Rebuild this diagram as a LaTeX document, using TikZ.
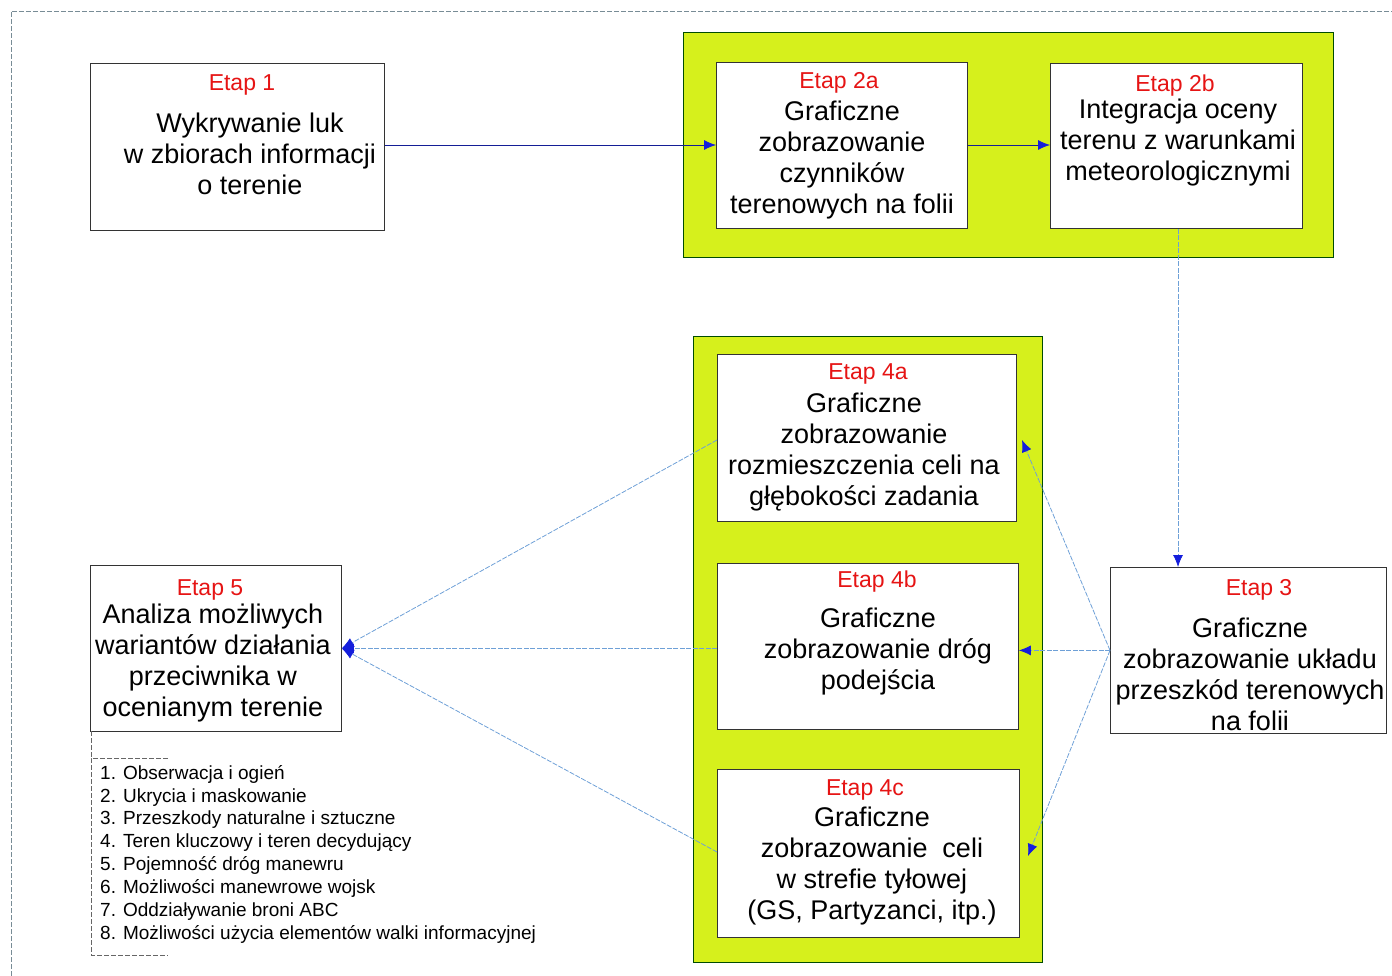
\documentclass[tikz,border=0pt]{standalone}
\usepackage{fontspec}
\setmainfont{Liberation Sans}
\usetikzlibrary{arrows.meta}
\definecolor{etapred}{RGB}{230,20,20}
\definecolor{greenfill}{RGB}{214,240,28}
\definecolor{lineblue}{RGB}{110,160,215}
\definecolor{darkblue}{RGB}{20,30,150}
\definecolor{arrblue}{RGB}{20,30,220}
\definecolor{framegray}{RGB}{120,140,150}
\tikzset{
  stage/.style={draw=black!80, line width=0.8pt, fill=white},
  group/.style={draw=black!70!green, line width=1pt, fill=greenfill},
  ttl/.style={text=etapred, font=\fontsize{23}{27}\selectfont, anchor=center, inner sep=0pt},
  body/.style={font=\fontsize{27}{31}\selectfont, align=center, anchor=center, inner sep=0pt},
  conn/.style={draw=lineblue, line width=0.8pt, dash pattern=on 5pt off 1.5pt, -{Latex[length=12pt,width=10pt,color=arrblue]}},
  connd/.style={draw=darkblue, line width=0.8pt, -{Latex[length=12pt,width=10pt,color=arrblue]}},
  listtxt/.style={font=\fontsize{19}{22.9}\selectfont, align=left, anchor=north west, inner sep=0pt},
  frame/.style={draw=framegray, line width=0.6pt, dash pattern=on 5pt off 2pt}
}
\begin{document}
\begin{tikzpicture}[x=1pt,y=-1pt]
\useasboundingbox (0,0) rectangle (1392,976);
% outer frame
\draw[frame] (11,976) -- (11,11) -- (1392,11);
% green groups
\draw[group] (683,33) rectangle (1333,258);
\draw[group] (693,336) rectangle (1042,962);
% stage boxes
\node[stage, minimum width=294pt, minimum height=167pt, anchor=north west] (e1) at (90,63) {};
\node[stage, minimum width=251pt, minimum height=166pt, anchor=north west] (e2a) at (716,62) {};
\node[stage, minimum width=252pt, minimum height=165pt, anchor=north west] (e2b) at (1050,63) {};
\node[stage, minimum width=299pt, minimum height=167pt, anchor=north west] (e4a) at (717,354) {};
\node[stage, minimum width=301pt, minimum height=166pt, anchor=north west] (e4b) at (717,563) {};
\node[stage, minimum width=302pt, minimum height=168pt, anchor=north west] (e4c) at (717,769) {};
\node[stage, minimum width=276pt, minimum height=166pt, anchor=north west] (e3) at (1110,567) {};
\node[stage, minimum width=251pt, minimum height=166pt, anchor=north west] (e5) at (90,565) {};
% texts
\node[ttl] (t1) at (242,85) {Etap 1};
\node[body] (b1) at (250,154) {Wykrywanie luk\\w zbiorach informacji\\o terenie};
\node[ttl] (t2a) at (839,83) {Etap 2a};
\node[body] (b2a) at (842,160) {Graficzne\\zobrazowanie\\czynników\\terenowych na folii};
\node[ttl] (t2b) at (1175,86) {Etap 2b};
\node[body] (b2b) at (1178,143) {Integracja oceny\\terenu z warunkami\\meteorologicznymi};
\node[ttl] (t4a) at (868,374) {Etap 4a};
\node[body] (b4a) at (864,452) {Graficzne\\zobrazowanie\\rozmieszczenia celi na\\głębokości zadania};
\node[ttl] (t4b) at (877,582) {Etap 4b};
\node[body] (b4b) at (878,652) {Graficzne\\zobrazowanie dróg\\podejścia};
\node[ttl] (t4c) at (865,790) {Etap 4c};
\node[body] (b4c) at (872,866) {Graficzne\\zobrazowanie\ \ celi\\w strefie tyłowej\\(GS, Partyzanci, itp.)};
\node[ttl] (t3) at (1259,590) {Etap 3};
\node[body] (b3) at (1250,674) {Graficzne\\zobrazowanie układu\\przeszkód terenowych\\na folii};
\node[ttl] (t5) at (210,590) {Etap 5};
\node[body] (b5) at (213,663) {Analiza możliwych\\wariantów działania\\przeciwnika w\\ocenianym terenie};
% list with bracket
\draw[frame, draw=black!60] (168,758) -- (91,758) -- (91,955) -- (168,955);
\draw[frame, draw=black!60] (91,731) -- (91,758);
\node[listtxt] (lst) at (100,765) {1. Obserwacja i ogień\\2. Ukrycia i maskowanie\\3. Przeszkody naturalne i sztuczne\\4. Teren kluczowy i teren decydujący\\5. Pojemność dróg manewru\\6. Możliwości manewrowe wojsk\\7. Oddziaływanie broni ABC\\8. Możliwości użycia elementów walki informacyjnej};
% connectors
\draw[connd] (e1.east |- 0,145) -- (e2a.west |- 0,145);
\draw[connd] (e2a.east |- 0,145) -- (e2b.west |- 0,145);
\draw[conn] (e2b.south -| 1178,0) -- (e3.north -| 1178,0);
\draw[conn] (e3.west) -- (e4b.east |- e3.west);
\draw[conn] (e3.west) -- (1022,440);
\draw[conn] (e3.west) -- (1028,856);
\coordinate (c4a) at (717,440);
\coordinate (c4c) at (717,852);
\draw[conn] (c4a) -- (e5.east);
\draw[conn] (e4b.west |- e5.east) -- (e5.east);
\draw[conn] (c4c) -- (e5.east);
\end{tikzpicture}
\end{document}
